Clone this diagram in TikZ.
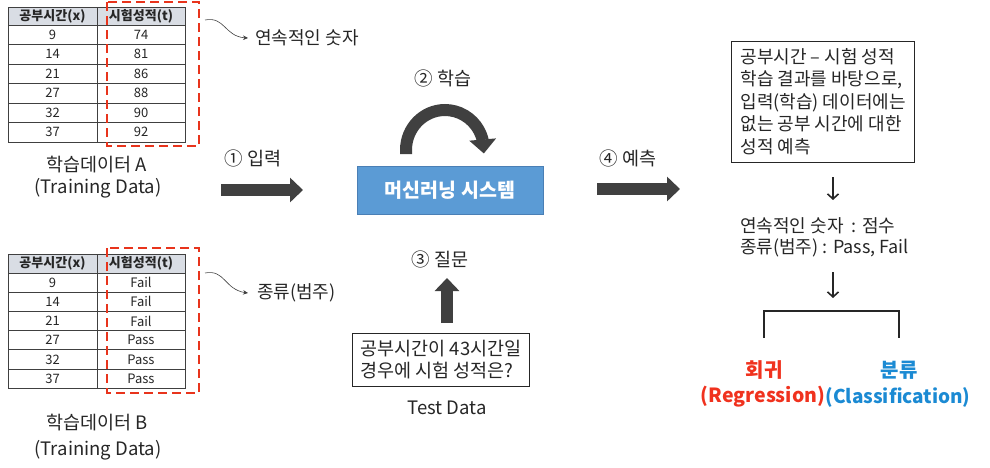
\documentclass[tikz,border=0pt]{standalone}
\usepackage{fontspec}
\setmainfont{Noto Sans CJK KR}
\usetikzlibrary{arrows.meta,bending}
\definecolor{txt}{HTML}{262626}
\definecolor{dgray}{HTML}{404040}
\definecolor{hdr}{HTML}{D9DDE4}
\definecolor{rdash}{HTML}{E8341C}
\definecolor{mlblue}{HTML}{5B9BD5}
\definecolor{mlborder}{HTML}{4A7FB5}
\definecolor{regred}{HTML}{F0321E}
\definecolor{clsblue}{HTML}{1B8AD3}
\tikzset{
  cell/.style={draw=dgray, line width=0.8pt, inner sep=0pt, text=txt, font=\fontsize{13}{14}\selectfont},
  hcell/.style={cell, fill=hdr, font=\bfseries\fontsize{13}{14}\selectfont},
  reddash/.style={draw=rdash, line width=2.6pt, dash pattern=on 9pt off 5pt},
  lbl/.style={text=txt, inner sep=0pt, font=\fontsize{18.5}{23}\selectfont},
  bigarrow/.style={draw=dgray, line width=12pt, -{Triangle[length=13pt,width=24pt]}},
  squig/.style={draw=dgray, line width=0.6pt, -{Stealth[length=5pt,width=4.5pt]}},
  thinarrow/.style={draw=txt, line width=1.6pt, -{Straight Barb[length=5pt,width=11pt]}},
  textbox/.style={draw=txt, line width=1pt, text=txt, align=left},
  mlbox/.style={fill=mlblue, draw=mlborder, line width=0.8pt, minimum width=186pt, minimum height=48pt, text=white, font=\bfseries\fontsize{19.5}{20}\selectfont},
  bracket/.style={draw=txt, line width=1.4pt},
}
\begin{document}
\begin{tikzpicture}[x=1pt,y=-1pt]
\useasboundingbox (0,0) rectangle (990,467);
% ---------- Table A ----------
\node[hcell, minimum width=89pt, minimum height=18pt] (ah1) at (52.5,16) {공부시간(x)};
\node[hcell, minimum width=88pt, minimum height=18pt] (ah2) at (141,16) {시험성적(t)};
\foreach \a/\b [count=\i] in {9/74,14/81,21/86,27/88,32/90,37/92}{
  \node[cell, minimum width=89pt, minimum height=19.5pt] (a\i-1) at (52.5,{25+(\i-0.5)*19.5}) {\a};
  \node[cell, minimum width=88pt, minimum height=19.5pt] (a\i-2) at (141,{25+(\i-0.5)*19.5}) {\b};
}
\draw[reddash] (107,2) rectangle (199,146);
\node[lbl, anchor=west, font=\fontsize{18}{23}\selectfont] (cont) at (255,38) {연속적인 숫자};
\coordinate (sqa) at (205,20);
\draw[squig] (sqa) .. controls (226,16) and (224,38) .. ([xshift=-7pt]cont.west);
\node[lbl] (tda) at (97,165) {학습데이터 A};
\node[lbl] (tda2) at (98,188) {(Training Data)};
% ---------- Table B ----------
\node[hcell, minimum width=89pt, minimum height=19pt] (bh1) at (52.5,263.5) {공부시간(x)};
\node[hcell, minimum width=88pt, minimum height=19pt] (bh2) at (141,263.5) {시험성적(t)};
\foreach \a/\b [count=\i] in {9/Fail,14/Fail,21/Fail,27/Pass,32/Pass,37/Pass}{
  \node[cell, minimum width=89pt, minimum height=19.2pt] (b\i-1) at (52.5,{273+(\i-0.5)*19.2}) {\a};
  \node[cell, minimum width=88pt, minimum height=19.2pt] (b\i-2) at (141,{273+(\i-0.5)*19.2}) {\b};
}
\draw[reddash] (107,248) rectangle (199,393);
\node[lbl, anchor=west, font=\fontsize{18}{23}\selectfont] (cat) at (257,293) {종류(범주)};
\coordinate (sqb) at (205,273);
\draw[squig] (sqb) .. controls (226,269) and (224,291) .. ([xshift=-9pt]cat.west);
\node[lbl] (tdb) at (97,423) {학습데이터 B};
\node[lbl] (tdb2) at (98,450) {(Training Data)};
% ---------- Centre ----------
\node[mlbox] (ml) at (450,190) {머신러닝 시스템};
\node[lbl] (l1) at (253,158) {① 입력};
\node[lbl] (l2) at (443,78) {② 학습};
\node[lbl] (l3) at (440,259) {③ 질문};
\node[lbl] (l4) at (628,158) {④ 예측};
\coordinate (a1s) at (221,190);
\coordinate (a1e) at (303,190);
\draw[bigarrow] (a1s) -- (a1e);
\coordinate (a4s) at (597,189);
\coordinate (a4e) at (680,189);
\draw[bigarrow] (a4s) -- (a4e);
\coordinate (a3s) at (447,323);
\coordinate (a3e) at (447,278);
\draw[bigarrow] (a3s) -- (a3e);
\coordinate (loops) at (406,154);
\draw[bigarrow, -{Triangle[length=14pt,width=26pt]}] (loops) -- ++(0,-4) arc[start angle=180, end angle=365, x radius=39, y radius=40];
\node[textbox, anchor=west, inner xsep=8pt, minimum height=53pt, font=\fontsize{18.5}{22}\selectfont] (q) at (352,359.5) {공부시간이 43시간일\\경우에 시험 성적은?};
\node[lbl, font=\fontsize{18.5}{20}\selectfont] (td) at (447,408) {Test Data};
% ---------- Right ----------
\node[textbox, anchor=west, inner xsep=9pt, minimum height=121pt, font=\fontsize{18}{22.5}\selectfont] (rb) at (731,101.5) {공부시간 – 시험 성적\\학습 결과를 바탕으로,\\입력(학습) 데이터에는\\없는 공부 시간에 대한\\성적 예측};
\node[lbl, anchor=west, align=left, font=\fontsize{18}{21}\selectfont] (kinds) at (740,237.5) {연속적인 숫자~~: 점수\\종류(범주) : Pass, Fail};
\coordinate (d1s) at (833,177);
\coordinate (d1e) at (833,200);
\draw[thinarrow] (d1s) -- (d1e);
\coordinate (d2s) at (833,272);
\coordinate (d2e) at (833,298);
\draw[thinarrow] (d2s) -- (d2e);
\coordinate (bl) at (764,338);
\coordinate (br) at (899,338);
\draw[bracket] (bl) -- ++(0,-27) -| (br);
\node[text=regred, font=\bfseries\fontsize{20}{22}\selectfont, inner sep=0pt] (reg) at (764,370) {회귀};
\node[text=regred, font=\bfseries\fontsize{19.5}{22}\selectfont, inner sep=0pt] (reg2) at (763,397) {(Regression)};
\node[text=clsblue, font=\bfseries\fontsize{20}{22}\selectfont, inner sep=0pt] (cls) at (899,370) {분류};
\node[text=clsblue, font=\bfseries\fontsize{19}{22}\selectfont, inner sep=0pt] (cls2) at (898,397) {(Classification)};
\end{tikzpicture}
\end{document}
